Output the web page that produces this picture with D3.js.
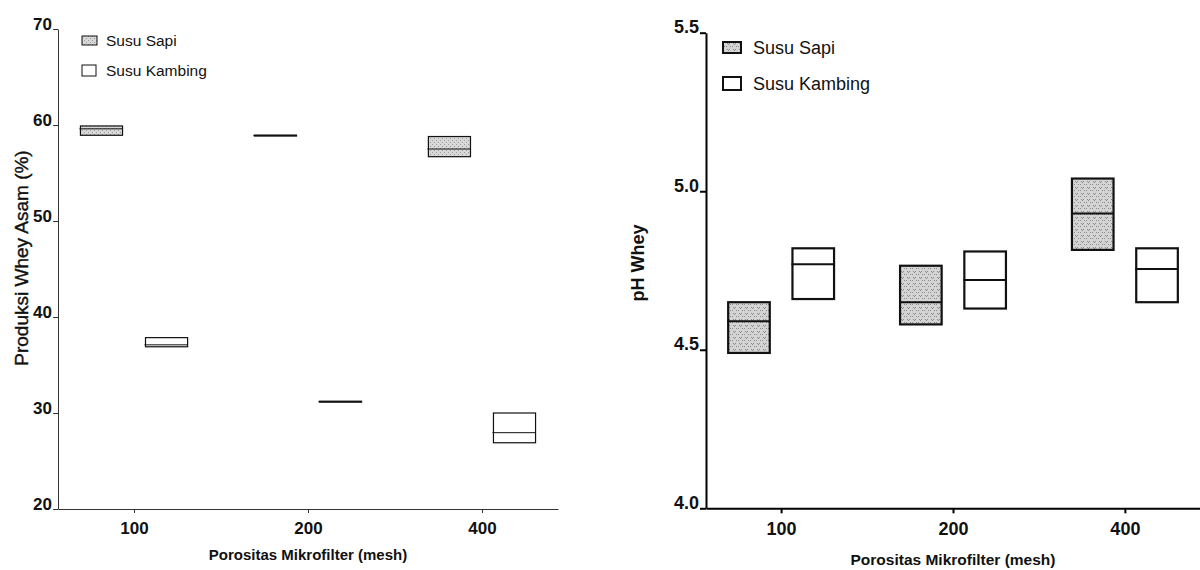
<!DOCTYPE html>
<html>
<head>
<meta charset="utf-8">
<script src="https://cdn.jsdelivr.net/npm/d3@7"></script>
<style>
body { margin: 0; background: #fff; }
svg { display: block; font-family: "Liberation Sans", Arial, sans-serif; }
</style>
</head>
<body>
<svg width="1200" height="570"></svg>
<script>
// Categories (porositas mikrofilter, mesh) and series
var categories = ["100", "200", "400"];
var seriesNames = ["Susu Sapi", "Susu Kambing"];

// Produksi whey asam (%) as [min, median, max]
var yieldSapi = [[58.93, 59.6, 59.9], [58.85, 58.9, 58.95], [56.7, 57.5, 58.8]];
var yieldKambing = [[36.9, 37.1, 37.85], [31.13, 31.18, 31.23], [26.9, 27.95, 30.0]];
var yieldTicks = [20, 30, 40, 50, 60, 70];

// pH whey as [min, median, max]
var phSapi = [[4.49, 4.59, 4.65], [4.58, 4.65, 4.765], [4.815, 4.93, 5.04]];
var phKambing = [[4.66, 4.77, 4.82], [4.63, 4.72, 4.81], [4.65, 4.755, 4.82]];
var phTicks = [4.0, 4.5, 5.0, 5.5];

var svg = d3.select("svg");
var defs = svg.append("defs");

// stipple fill patterns (gray with darker dots)
function addPattern(id, size, bg, dots, dotColor) {
    var p = defs.append("pattern")
        .attr("id", id)
        .attr("patternUnits", "userSpaceOnUse")
        .attr("width", size)
        .attr("height", size);
    p.append("rect").attr("width", size).attr("height", size).attr("fill", bg);
    dots.forEach(function(d) {
        p.append("rect")
            .attr("x", d[0]).attr("y", d[1])
            .attr("width", 1).attr("height", 1)
            .attr("fill", dotColor);
    });
}
addPattern("dotsLeft", 4, "#d8d8d8", [[0, 0], [2, 2]], "#9a9a9a");
addPattern("dotsRight", 6, "#d4d4d4", [[1, 1], [3, 1], [2, 2], [4, 4], [0, 4]], "#8a8a8a");

function drawPanel(cfg) {
    var g = svg.append("g");

    var x = d3.scalePoint()
        .domain(categories)
        .range(cfg.xRange)
        .padding(0.437);

    var y = d3.scaleLinear()
        .domain(cfg.yDomain)
        .range(cfg.yRange);

    var off = x.step() * 0.187;
    var boxW = x.step() * 0.242;

    // y axis
    var yAxis = g.append("g")
        .attr("transform", "translate(" + cfg.xRange[0] + ",0)")
        .call(d3.axisLeft(y)
            .tickValues(cfg.ticks)
            .tickFormat(d3.format(cfg.tickFormat))
            .tickSize(cfg.tickSize)
            .tickSizeOuter(0)
            .tickPadding(1));
    yAxis.selectAll("text")
        .attr("dy", "0")
        .style("font-size", cfg.tickFont + "px")
        .style("font-weight", "bold")
        .attr("fill", "#111");

    // x axis
    var xAxis = g.append("g")
        .attr("transform", "translate(0," + cfg.yRange[0] + ")")
        .call(d3.axisBottom(x)
            .tickSize(cfg.tickSize - 1)
            .tickSizeOuter(0));
    xAxis.selectAll("text")
        .attr("y", cfg.xLabelOffset)
        .attr("dy", "0")
        .style("font-size", cfg.tickFont + "px")
        .style("font-weight", "bold")
        .attr("fill", "#111");

    g.selectAll(".domain, .tick line")
        .attr("stroke", cfg.axisColor)
        .attr("stroke-width", cfg.axisWidth);

    // boxes
    var series = [
        { values: cfg.sapi, fill: "url(#" + cfg.pattern + ")", shift: -off },
        { values: cfg.kambing, fill: "#fff", shift: off }
    ];
    series.forEach(function(s) {
        var boxes = g.append("g")
            .selectAll("g")
            .data(s.values)
            .enter().append("g");

        boxes.append("rect")
            .attr("x", function(d, i) { return x(categories[i]) + s.shift - boxW / 2; })
            .attr("y", function(d) { return y(d[2]); })
            .attr("width", boxW)
            .attr("height", function(d) { return y(d[0]) - y(d[2]); })
            .attr("fill", s.fill)
            .attr("stroke", "#111")
            .attr("stroke-width", cfg.boxStroke);

        boxes.append("line")
            .attr("x1", function(d, i) { return x(categories[i]) + s.shift - boxW / 2 - 1; })
            .attr("x2", function(d, i) { return x(categories[i]) + s.shift + boxW / 2; })
            .attr("y1", function(d) { return y(d[1]); })
            .attr("y2", function(d) { return y(d[1]); })
            .attr("stroke", "#111")
            .attr("stroke-width", cfg.medianStroke);
    });

    // axis titles
    g.append("text")
        .attr("x", x(categories[1]))
        .attr("y", cfg.xTitleY)
        .attr("text-anchor", "middle")
        .style("font-size", cfg.xTitleFont + "px")
        .style("font-weight", "bold")
        .attr("fill", "#111")
        .text("Porositas Mikrofilter (mesh)");

    g.append("text")
        .attr("transform", "translate(" + cfg.yTitle[0] + "," + cfg.yTitle[1] + ") rotate(-90)")
        .attr("text-anchor", "middle")
        .style("font-size", cfg.yTitleFont + "px")
        .style("font-weight", cfg.yTitleWeight)
        .attr("fill", "#111")
        .attr("stroke", cfg.yTitleWeight == "normal" ? "#111" : "none")
        .attr("stroke-width", 0.4)
        .text(cfg.yLabel);

    // legend
    var leg = g.append("g");
    seriesNames.forEach(function(name, i) {
        var sw = cfg.legend.swatches[i];
        leg.append("rect")
            .attr("x", sw[0]).attr("y", sw[1])
            .attr("width", sw[2]).attr("height", sw[3])
            .attr("fill", i == 0 ? "url(#" + cfg.pattern + ")" : "#fff")
            .attr("stroke", "#111")
            .attr("stroke-width", cfg.legend.stroke);
        leg.append("text")
            .attr("x", cfg.legend.textX)
            .attr("y", cfg.legend.baselines[i])
            .style("font-size", cfg.legend.font + "px")
            .attr("fill", "#111")
            .text(name);
    });
}

// left: produksi whey asam
drawPanel({
    xRange: [58, 558],
    yRange: [509, 29],
    yDomain: [20, 70],
    ticks: yieldTicks,
    tickFormat: "d",
    tickSize: 5,
    tickFont: 17,
    xLabelOffset: 25,
    axisColor: "#333",
    axisWidth: 1,
    boxStroke: 1.2,
    medianStroke: 1,
    pattern: "dotsLeft",
    sapi: yieldSapi,
    kambing: yieldKambing,
    xTitleY: 560,
    xTitleFont: 15,
    yLabel: "Produksi Whey Asam (%)",
    yTitle: [28, 258],
    yTitleFont: 19,
    yTitleWeight: "normal",
    legend: {
        swatches: [[82, 36, 15, 9], [82, 65, 14, 11]],
        textX: 106,
        baselines: [46, 76],
        font: 15.5,
        stroke: 1
    }
});

// right: pH whey
drawPanel({
    xRange: [706, 1200],
    yRange: [508.3, 32.7],
    yDomain: [4.0, 5.5],
    ticks: phTicks,
    tickFormat: ".1f",
    tickSize: 6,
    tickFont: 18,
    xLabelOffset: 27,
    axisColor: "#000",
    axisWidth: 2,
    boxStroke: 2.2,
    medianStroke: 2,
    pattern: "dotsRight",
    sapi: phSapi,
    kambing: phKambing,
    xTitleY: 565,
    xTitleFont: 15.5,
    yLabel: "pH Whey",
    yTitle: [644, 263],
    yTitleFont: 18,
    yTitleWeight: "bold",
    legend: {
        swatches: [[723, 42, 18, 11], [723, 77, 18, 13]],
        textX: 753,
        baselines: [54, 90],
        font: 18,
        stroke: 2
    }
});
</script>
</body>
</html>
